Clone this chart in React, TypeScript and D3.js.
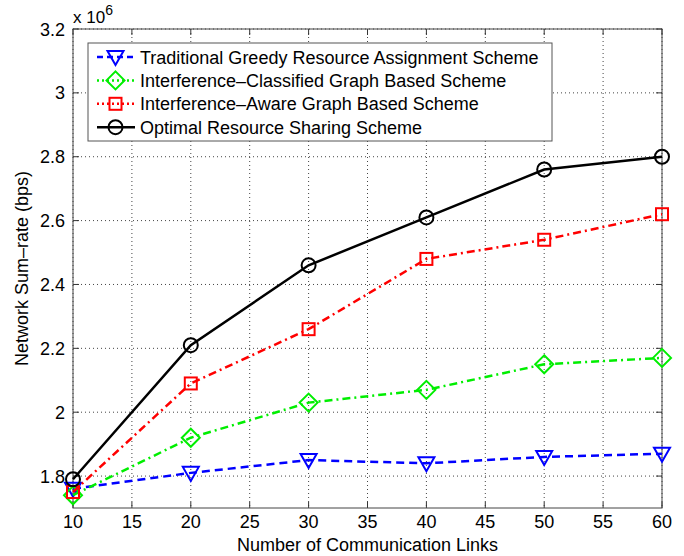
import React from "react";
import * as d3 from "d3";

const xVals = [10, 20, 30, 40, 50, 60];
const xTicks = [10, 15, 20, 25, 30, 35, 40, 45, 50, 55, 60];
const yTicks = [1.8, 2, 2.2, 2.4, 2.6, 2.8, 3, 3.2];
const greedy = [1.76, 1.81, 1.85, 1.84, 1.86, 1.87];
const classified = [1.74, 1.92, 2.03, 2.07, 2.15, 2.17];
const aware = [1.75, 2.09, 2.26, 2.48, 2.54, 2.62];
const optimal = [1.79, 2.21, 2.46, 2.61, 2.76, 2.80];
const names = [
  "Traditional Greedy Resource Assignment Scheme",
  "Interference\u2013Classified Graph Based Scheme",
  "Interference\u2013Aware Graph Based Scheme",
  "Optimal Resource Sharing Scheme",
];
const xLabel = "Number of Communication Links";
const yLabel = "Network Sum\u2013rate (bps)";

const W = 684, H = 556;
const L = 73, R = 662, T = 29, B = 508;

export default function App() {
  const x = d3.scaleLinear().domain([10, 60]).range([L, R]);
  const y = d3.scaleLinear().domain([1.7, 3.2]).range([B, T]);
  const line = d3.line<number>().x((_, i) => x(xVals[i])).y((d) => y(d));
  const series = [
    { data: greedy, color: "#0000ff", dash: "8,5", ldash: "6,4", marker: "tri" },
    { data: classified, color: "#00ee00", dash: "8,4,2,4", ldash: "2,3", marker: "dia" },
    { data: aware, color: "#ff0000", dash: "8,4,2,4", ldash: "2,3", marker: "sq" },
    { data: optimal, color: "#000000", dash: "", ldash: "", marker: "circ" },
  ];
  const marker = (m: string, cx: number, cy: number, c: string, k: string) => {
    if (m === "tri")
      return <path key={k} d={`M${cx - 8},${cy - 6}L${cx + 8},${cy - 6}L${cx},${cy + 8}Z`} fill="none" stroke={c} strokeWidth={2} />;
    if (m === "dia")
      return <path key={k} d={`M${cx},${cy - 9}L${cx + 9},${cy}L${cx},${cy + 9}L${cx - 9},${cy}Z`} fill="none" stroke={c} strokeWidth={2} />;
    if (m === "sq")
      return <rect key={k} x={cx - 6} y={cy - 6} width={12} height={12} fill="none" stroke={c} strokeWidth={2} />;
    return <circle key={k} cx={cx} cy={cy} r={7} fill="none" stroke={c} strokeWidth={2} />;
  };
  const font = "Arial, 'Liberation Sans', sans-serif";
  return (
    <svg width={W} height={H} style={{ position: "absolute", left: 0, top: 0, background: "#fff" }} fontFamily={font}>
      <rect x={0} y={0} width={W} height={H} fill="#fff" />
      {xTicks.map((t) => (
        <line key={"gx" + t} x1={x(t)} x2={x(t)} y1={T} y2={B} stroke="#444" strokeWidth={1} strokeDasharray="1,3" />
      ))}
      {yTicks.map((t) => (
        <line key={"gy" + t} x1={L} x2={R} y1={y(t)} y2={y(t)} stroke="#444" strokeWidth={1} strokeDasharray="1,3" />
      ))}
      {xTicks.map((t) => (
        <g key={"tx" + t}>
          <line x1={x(t)} x2={x(t)} y1={B} y2={B - 6} stroke="#333" />
          <line x1={x(t)} x2={x(t)} y1={T} y2={T + 6} stroke="#333" />
          <text x={x(t)} y={B + 20} textAnchor="middle" fontSize={18} fill="#000">{t}</text>
        </g>
      ))}
      {yTicks.map((t) => (
        <g key={"ty" + t}>
          <line x1={L} x2={L + 6} y1={y(t)} y2={y(t)} stroke="#333" />
          <line x1={R} x2={R - 6} y1={y(t)} y2={y(t)} stroke="#333" />
          <text x={L - 8} y={y(t) + 6.5} textAnchor="end" fontSize={18} fill="#000">{String(t)}</text>
        </g>
      ))}
      <rect x={L} y={T} width={R - L} height={B - T} fill="none" stroke="#444" strokeWidth={1} />
      <text x={73} y={23} fontSize={17} fill="#000">x 10<tspan dy={-8} fontSize={14}>6</tspan></text>
      {series.map((s, si) => (
        <g key={"s" + si}>
          <path d={line(s.data) || ""} fill="none" stroke={s.color} strokeWidth={2.5} strokeDasharray={s.dash} />
          {s.data.map((v, i) => marker(s.marker, x(xVals[i]), y(v), s.color, "m" + si + i))}
        </g>
      ))}
      <rect x={88} y={43} width={464} height={98} fill="#fff" stroke="#555" strokeWidth={1} />
      {series.map((s, i) => {
        const cy = 57 + i * 23.4;
        return (
          <g key={"lg" + i}>
            <line x1={97} x2={135} y1={cy} y2={cy} stroke={s.color} strokeWidth={2.5} strokeDasharray={s.ldash} />
            {marker(s.marker, 115.5, cy, s.color, "lm" + i)}
            <text x={140} y={cy + 6.5} fontSize={18} fill="#000">{names[i]}</text>
          </g>
        );
      })}
      <text x={(L + R) / 2} y={551} textAnchor="middle" fontSize={18} fill="#000">{xLabel}</text>
      <text transform={`translate(28,${(T + B) / 2}) rotate(-90)`} textAnchor="middle" fontSize={18} fill="#000">{yLabel}</text>
    </svg>
  );
}
